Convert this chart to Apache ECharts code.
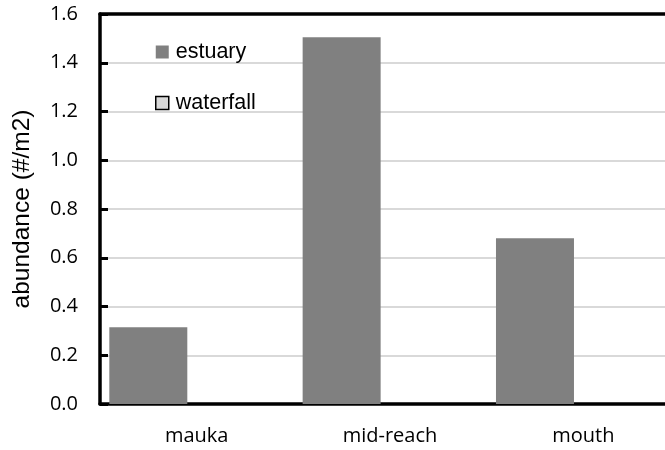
<!DOCTYPE html>
<html>
<head>
<meta charset="utf-8">
<script src="https://cdn.jsdelivr.net/npm/echarts@6/dist/echarts.min.js"></script>
<style>
  html, body { margin: 0; padding: 0; background: #fff; overflow: hidden; }
  #chart { width: 665px; height: 450px; }
</style>
</head>
<body>
<div id="chart"></div>
<script>
// Sampling sites along the stream
const sites = ['mauka', 'mid-reach', 'mouth'];
// Mean abundance (#/m2) per site for each source
const estuary = [0.315, 1.505, 0.68];
const waterfall = [0, 0, 0];
// Value axis range
const yMin = 0;
const yMax = 1.6;
const yStep = 0.2;

const labelFont = '"Open Sans", sans-serif';
const textFont = '"Liberation Sans", Arial, sans-serif';

const chart = echarts.init(document.getElementById('chart'));
chart.setOption({
  animation: false,
  backgroundColor: '#ffffff',
  legend: {
    orient: 'vertical',
    left: 155,
    top: 41,
    padding: 0,
    icon: 'rect',
    itemWidth: 13,
    itemHeight: 13,
    itemGap: 29,
    textStyle: { fontFamily: textFont, fontSize: 21.5, color: '#000', padding: [0, 0, 0, 2] },
    data: [
      { name: 'estuary', itemStyle: { color: '#808080', borderWidth: 0 } },
      { name: 'waterfall', itemStyle: { color: '#d9d9d9', borderColor: '#000', borderWidth: 1.5 } }
    ]
  },
  // the plot area runs on past the right edge of the page
  grid: { left: 100, width: 580, top: 14, bottom: 46, containLabel: false, outerBoundsMode: 'none' },
  xAxis: [
    {
      type: 'category',
      data: sites,
      position: 'bottom',
      axisLine: { show: true, lineStyle: { color: '#000', width: 3.5 } },
      axisTick: { show: false },
      axisLabel: { fontFamily: labelFont, fontSize: 20, color: '#000', margin: 22 }
    },
    {
      type: 'category',
      data: sites,
      position: 'top',
      axisLine: { show: true, onZero: false, lineStyle: { color: '#000', width: 3.5 } },
      axisTick: { show: false },
      axisLabel: { show: false },
      splitLine: { show: false }
    }
  ],
  yAxis: {
    type: 'value',
    min: yMin, max: yMax, interval: yStep,
    name: 'abundance (#/m2)',
    nameLocation: 'middle',
    nameGap: 65,
    nameTextStyle: { fontFamily: textFont, fontSize: 24.5, color: '#000' },
    axisLine: { show: true, lineStyle: { color: '#000', width: 3.5 } },
    axisTick: { show: true, inside: true, length: 8, lineStyle: { color: '#000', width: 3 } },
    axisLabel: {
      fontFamily: labelFont, fontSize: 20, color: '#000', margin: 22,
      formatter: v => v.toFixed(1)
    },
    splitLine: { show: true, lineStyle: { color: '#d9d9d9', width: 2 } }
  },
  series: [
    {
      name: 'estuary',
      type: 'bar',
      data: estuary,
      barWidth: 78,
      barGap: '24%',
      itemStyle: { color: '#808080' },
      z: 3
    },
    {
      name: 'waterfall',
      type: 'bar',
      data: waterfall,
      barWidth: 78,
      barGap: '24%',
      itemStyle: { color: '#d9d9d9', borderColor: '#000', borderWidth: 1 },
      z: 3
    }
  ]
});
</script>
</body>
</html>
